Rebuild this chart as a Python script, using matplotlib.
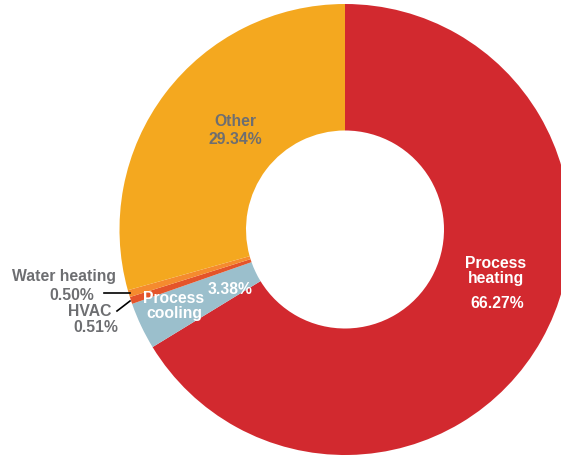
import matplotlib
matplotlib.use("Agg")
import matplotlib.pyplot as plt

categories = ["Process heating", "Process cooling", "HVAC", "Water heating", "Other"]
shares = [66.27, 3.38, 0.51, 0.50, 29.34]
colors = ["#D2292F", "#9BBFCC", "#E4542A", "#F58B2E", "#F4A81F"]

W, H = 561, 457
fig = plt.figure(figsize=(W / 100, H / 100), dpi=100)
ax = fig.add_axes([0, 0, 1, 1])

cx, cy = 345, H - 229.5
R = 225.5
ring = 126.5

ax.pie(shares, colors=colors, startangle=90, counterclock=False,
       center=(cx, cy), radius=R, frame=True,
       wedgeprops=dict(width=ring, linewidth=0))
ax.set_xlim(0, W)
ax.set_ylim(0, H)
ax.set_aspect("equal")
ax.axis("off")

font = "Liberation Sans"
white = "white"
gray = "#6D6E71"
fs = 11.3


def y(v):
    return H - v


def label(x, yy, s, color, **kw):
    ax.text(x, y(yy), s, color=color, fontsize=fs, fontweight="bold",
            family=font, ha="center", va="center", **kw)


label(496, 271, "Process\nheating", white, linespacing=0.92)
label(497, 303, f"{shares[0]:.2f}%", white)

label(235, 122, "Other", gray)
label(235, 139, f"{shares[4]:.2f}%", gray)

label(174, 306, "Process\ncooling", white, linespacing=0.92)
label(230, 290, f"{shares[1]:.2f}%", white)

label(64, 276, "Water heating", gray)
label(72, 295, f"{shares[3]:.2f}%", gray)
label(90, 312, "HVAC", gray)
label(96, 328, f"{shares[2]:.2f}%", gray)

ax.plot([104, 130], [y(293), y(293)], color="black", lw=1.2)
ax.plot([117, 130], [y(311), y(301)], color="black", lw=1.2)

fig.savefig("out.png", dpi=100, facecolor="white")
